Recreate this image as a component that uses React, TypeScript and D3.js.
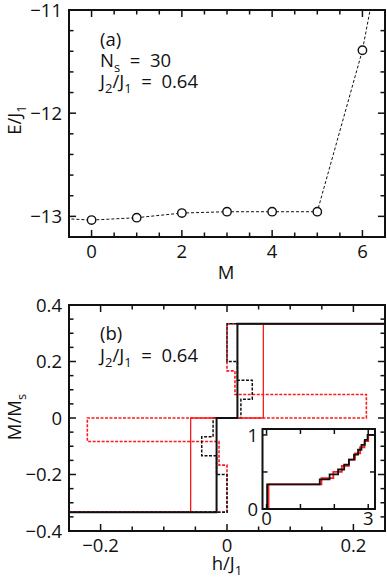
import React from "react";
import * as d3 from "d3";

// panel (a): ground state energy vs M (N_s = 30)
const mList = [-1, 0, 1, 2, 3, 4, 5, 6, 7];
const energy = [-13.013, -13.036, -13.013, -12.968, -12.955, -12.955, -12.955, -11.39, -9.1];
const mTicks = [0, 2, 4, 6];
const eTicks = [-13, -12, -11];

// panel (b): magnetization curves, N_s = 30 (black) and N_s = 24 (red)
const hSolid30 = [-0.25, -0.0165, -0.0165, 0.0165, 0.0165, 0.25];
const mSolid30 = [-1 / 3, -1 / 3, 0, 0, 1 / 3, 1 / 3];
const hSolid24 = [-0.25, -0.0575, -0.0575, 0.0575, 0.0575, 0.25];
const mSolid24 = [-1 / 3, -1 / 3, 0, 0, 1 / 3, 1 / 3];
const hDash30 = [-0.25, 0, 0, -0.0165, -0.0165, -0.04, -0.04, -0.022, -0.022, 0.022, 0.022, 0.04, 0.04, 0.0165, 0.0165, 0, 0, 0.25];
const mDash30 = [-5, -5, -3, -3, -2, -2, -1, -1, 0, 0, 1, 1, 2, 2, 3, 3, 5, 5].map((k) => k / 15);
const hDash24 = [-0.25, 0, 0, -0.0126, -0.0126, -0.221, -0.221, -0.0575, 0.0575, 0.2205, 0.2205, 0.0126, 0.0126, 0, 0, 0.25];
const mDash24 = [-4, -4, -2, -2, -1, -1, 0, 0, 0, 0, 1, 1, 2, 2, 4, 4].map((k) => k / 12);
const hTicks = [-0.2, 0, 0.2];
const magTicks = [-0.4, -0.2, 0, 0.2, 0.4];

// inset: full magnetization curve up to saturation
const insetField30 = [0, 0.0165, 1.57, 1.86, 2.11, 2.29, 2.43, 2.58, 2.7, 2.8, 2.9, 2.98, 3.2];
const insetMag30 = [0, 5, 6, 7, 8, 9, 10, 11, 12, 13, 14, 15, 15].map((k) => k / 15);
const insetField24 = [0, 0.0575, 1.62, 1.97, 2.22, 2.43, 2.61, 2.76, 2.89, 3.0, 3.2];
const insetMag24 = [0, 4, 5, 6, 7, 8, 9, 10, 11, 12, 12].map((k) => k / 12);

const FONT = "'Open Sans', sans-serif";
const FS = 18.5;
const RED = "#ff1a1a";
const INK = "#111";

const fmt = (v: number) => (v < 0 ? "\u2212" + Math.abs(v) : String(v));

type FrameProps = {
  x: any;
  y: any;
  xMajor: number[];
  xMinor: number[];
  yMajor: number[];
  yMinor: number[];
  big: number;
  small: number;
  sw: number;
};

const Frame = ({ x, y, xMajor, xMinor, yMajor, yMinor, big, small, sw }: FrameProps) => {
  const [x0, x1] = x.range();
  const [y0, y1] = y.range(); // y0 bottom, y1 top
  const ticks: JSX.Element[] = [];
  const add = (vals: number[], len: number, key: string) => {
    vals.forEach((v, i) => {
      const px = x(v);
      ticks.push(<line key={key + "b" + i} x1={px} x2={px} y1={y0} y2={y0 - len} />);
      ticks.push(<line key={key + "t" + i} x1={px} x2={px} y1={y1} y2={y1 + len} />);
    });
  };
  const addY = (vals: number[], len: number, key: string) => {
    vals.forEach((v, i) => {
      const py = y(v);
      ticks.push(<line key={key + "l" + i} x1={x0} x2={x0 + len} y1={py} y2={py} />);
      ticks.push(<line key={key + "r" + i} x1={x1} x2={x1 - len} y1={py} y2={py} />);
    });
  };
  add(xMajor, big, "xM");
  add(xMinor, small, "xm");
  addY(yMajor, big, "yM");
  addY(yMinor, small, "ym");
  return (
    <g stroke={INK} fill="none">
      <g strokeWidth={1.5}>{ticks}</g>
      <rect x={x0} y={y1} width={x1 - x0} height={y0 - y1} strokeWidth={sw} />
    </g>
  );
};

const App = () => {
  // panel (a)
  const xA = d3.scaleLinear().domain([-0.5, 6.5]).range([69, 385]);
  const yA = d3.scaleLinear().domain([-13.2, -11]).range([237, 10]);
  const lineA = d3
    .line<number>()
    .x((_, i) => xA(mList[i]))
    .y((d) => yA(d));
  const pointsA = mList
    .map((m, i) => ({ m, e: energy[i] }))
    .filter((p) => p.m >= xA.domain()[0] && p.e <= yA.domain()[1]);

  // panel (b)
  const xB = d3.scaleLinear().domain([-0.25, 0.25]).range([69, 385]);
  const yB = d3.scaleLinear().domain([-0.4, 0.4]).range([531, 305]);
  const pathB = (hs: number[], ms: number[]) =>
    d3
      .line<number>()
      .x((d) => xB(d))
      .y((_, i) => yB(ms[i]))(hs) || "";

  // inset
  const xI = d3.scaleLinear().domain([-0.12, 3.2]).range([262.5, 375]);
  const yI = d3.scaleLinear().domain([0, 1.08]).range([509, 429]);
  const pathI = (hs: number[], ms: number[]) =>
    d3
      .line<number>()
      .curve(d3.curveStepAfter)
      .x((d) => xI(d))
      .y((_, i) => yI(ms[i]))(hs) || "";

  const sub = (t: string) => (
    <tspan fontSize={13} dy={4.5}>
      {t}
    </tspan>
  );

  return (
    <svg
      width={387}
      height={579}
      style={{ position: "absolute", left: 0, top: 0, background: "#fff" }}
      fontFamily={FONT}
      fontSize={FS}
      fill={INK}
    >
      <defs>
        <clipPath id="clipA">
          <rect x={69} y={10} width={316} height={227} />
        </clipPath>
        <clipPath id="clipB">
          <rect x={69} y={305} width={316} height={226} />
        </clipPath>
      </defs>

      {/* ---------- panel (a) ---------- */}
      <g clipPath="url(#clipA)">
        <path d={lineA(energy) || ""} fill="none" stroke={INK} strokeWidth={1} strokeDasharray="3,2" />
      </g>
      {pointsA.map((p, i) => (
        <circle key={i} cx={xA(p.m)} cy={yA(p.e)} r={4.2} fill="#fff" stroke={INK} strokeWidth={1.4} />
      ))}
      <Frame
        x={xA}
        y={yA}
        xMajor={mTicks}
        xMinor={d3.range(-0.5, 6.51, 0.5).filter((v) => v % 2 !== 0)}
        yMajor={eTicks}
        yMinor={d3.range(-13.2, -10.99, 0.2).filter((v) => Math.abs(v - Math.round(v)) > 0.01)}
        big={7}
        small={4.5}
        sw={2}
      />
      {mTicks.map((t) => (
        <text key={t} x={xA(t)} y={258} textAnchor="middle">
          {fmt(t)}
        </text>
      ))}
      {eTicks.map((t) => (
        <text key={t} x={62} y={yA(t)} dy="0.36em" textAnchor="end">
          {fmt(t)}
        </text>
      ))}
      <text x={226} y={279} textAnchor="middle">M</text>
      <text transform="translate(21,120) rotate(-90)" textAnchor="middle">
        E/J{sub("1")}
      </text>
      <text x={100} y={46}>(a)</text>
      <text x={100} y={67} xmlSpace="preserve">
        N{sub("s")}
        <tspan dy={-4.5}>{"  =  30"}</tspan>
      </text>
      <text x={100} y={88} xmlSpace="preserve">
        J{sub("2")}
        <tspan dy={-4.5}>/J</tspan>
        {sub("1")}
        <tspan dy={-4.5}>{"  =  0.64"}</tspan>
      </text>

      {/* ---------- panel (b) ---------- */}
      <g clipPath="url(#clipB)" fill="none">
        <path d={pathB(hDash24, mDash24)} stroke={RED} strokeWidth={1.6} strokeDasharray="3,1.5" />
        <path d={pathB(hDash30, mDash30)} stroke={INK} strokeWidth={1.5} strokeDasharray="3,1.5" />
        <path d={pathB(hSolid24, mSolid24)} stroke={RED} strokeWidth={1.3} />
        <path d={pathB(hSolid30, mSolid30)} stroke={INK} strokeWidth={2} />
      </g>
      <Frame
        x={xB}
        y={yB}
        xMajor={hTicks}
        xMinor={d3.range(-0.25, 0.251, 0.05).filter((v) => Math.abs(v * 5 - Math.round(v * 5)) > 0.01)}
        yMajor={magTicks}
        yMinor={d3.range(-0.4, 0.401, 0.05).filter((v) => Math.abs(v * 5 - Math.round(v * 5)) > 0.01)}
        big={7}
        small={4.5}
        sw={2}
      />
      {hTicks.map((t) => (
        <text key={t} x={xB(t)} y={552} textAnchor="middle">
          {fmt(t)}
        </text>
      ))}
      {magTicks.map((t) => (
        <text key={t} x={62} y={yB(t)} dy="0.36em" textAnchor="end">
          {fmt(t)}
        </text>
      ))}
      <text x={227} y={570} textAnchor="middle">
        h/J{sub("1")}
      </text>
      <text transform="translate(21,417) rotate(-90)" textAnchor="middle">
        M/M{sub("s")}
      </text>
      <text x={100} y={340}>(b)</text>
      <text x={100} y={362} xmlSpace="preserve">
        J{sub("2")}
        <tspan dy={-4.5}>/J</tspan>
        {sub("1")}
        <tspan dy={-4.5}>{"  =  0.64"}</tspan>
      </text>

      {/* ---------- inset ---------- */}
      <rect x={262.5} y={429} width={112.5} height={80} fill="#fff" />
      <g fill="none">
        <path d={pathI(insetField24, insetMag24)} stroke={RED} strokeWidth={1.8} />
        <path d={pathI(insetField30, insetMag30)} stroke={INK} strokeWidth={1.8} />
      </g>
      <Frame
        x={xI}
        y={yI}
        xMajor={[0, 1, 2, 3]}
        xMinor={[]}
        yMajor={[0, 0.5, 1]}
        yMinor={[]}
        big={5}
        small={3}
        sw={2}
      />
      <text x={xI(0)} y={525} textAnchor="middle">0</text>
      <text x={xI(3)} y={525} textAnchor="middle">3</text>
      <text x={258} y={yI(0)} dy="0.36em" textAnchor="end">0</text>
      <text x={258} y={yI(1)} dy="0.36em" textAnchor="end">1</text>
    </svg>
  );
};

export default App;
